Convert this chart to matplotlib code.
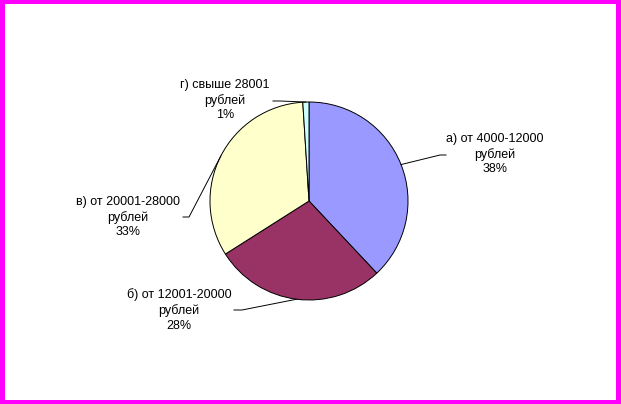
#!/usr/bin/env python3
import numpy as np
import matplotlib
matplotlib.use('Agg')
import matplotlib.pyplot as plt
from matplotlib.patches import Rectangle

plt.rcParams['font.family'] = ['Liberation Sans', 'DejaVu Sans']

categories = ["а) от 4000-12000", "б) от 12001-20000", "в) от 20001-28000", "г) свыше 28001"]
unit = "рублей"
values = [38, 28, 33, 1]
colors = ["#9999FF", "#993366", "#FFFFCC", "#CCFFFF"]

W, H = 621, 404
# pie geometry in pixel coords (y up)
cx, cy, r = 309, 203, 99
# label text centres and leader anchor points (pixels, y up)
label_pos = [(495, 250), (179, 94), (128, 187), (225, 304)]
leader_end = [[(440, 249), (446, 249)],
              [(242, 94), (234, 94)],
              [(189, 187), (183, 187)],
              [(280, 303), (273, 303)]]

fig = plt.figure(figsize=(W / 100, H / 100), dpi=100)
fig.patch.set_facecolor("#FF00FF")
ax = fig.add_axes([0, 0, 1, 1])
ax.set_xlim(0, W)
ax.set_ylim(0, H)
ax.axis("off")
ax.add_patch(Rectangle((5, 4), W - 10, H - 8, facecolor="white", edgecolor="none", zorder=0))

wedges, _ = ax.pie(values, colors=colors, center=(cx, cy), radius=r,
                   startangle=90, counterclock=False,
                   wedgeprops=dict(edgecolor="black", linewidth=0.7))
ax.set_xlim(0, W)
ax.set_ylim(0, H)
ax.set_aspect("equal")

for w, cat, v, (tx, ty), pts in zip(wedges, categories, values, label_pos, leader_end):
    mid = np.deg2rad((w.theta1 + w.theta2) / 2)
    ex, ey = cx + r * np.cos(mid), cy + r * np.sin(mid)
    xs = [ex] + [p[0] for p in pts]
    ys = [ey] + [p[1] for p in pts]
    ax.plot(xs, ys, color="black", linewidth=0.7)
    ax.text(tx, ty, f"{cat}\n{unit}\n{v}%", ha="center", va="center",
            fontsize=9, linespacing=1.3, color="black")

fig.savefig("out.png", dpi=100, facecolor=fig.get_facecolor())
